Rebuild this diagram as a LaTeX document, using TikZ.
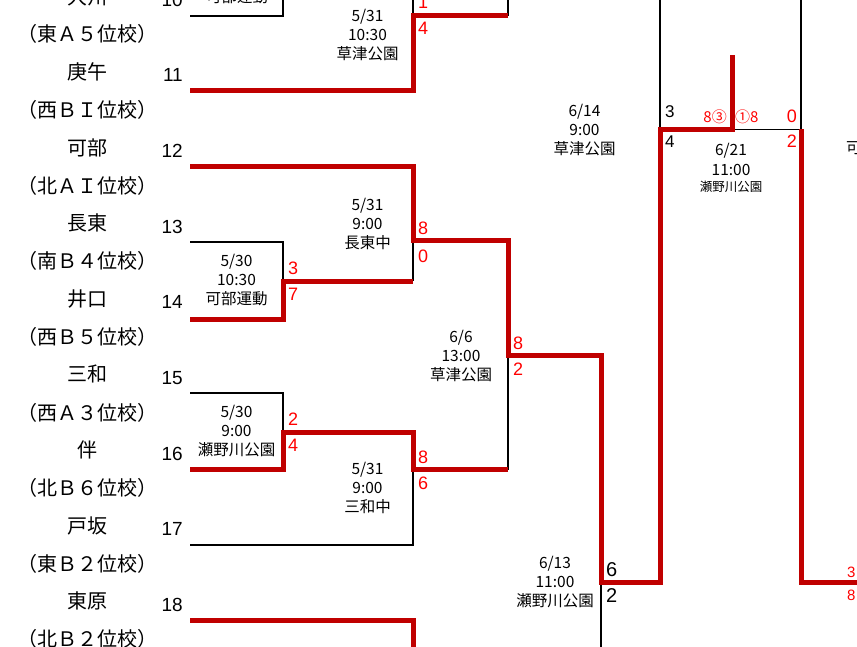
\documentclass[tikz,border=0pt]{standalone}
\usepackage{fontspec}
\setmainfont{Liberation Sans}
\newfontfamily\jp{Noto Sans CJK JP}
\definecolor{wred}{RGB}{192,0,0}
\definecolor{sred}{RGB}{255,0,0}
\begin{document}
\begin{tikzpicture}[x=1pt,y=-1pt,
  win/.style={wred,line width=5pt},
  lose/.style={black,line width=1.6pt},
  team/.style={font=\fontsize{20}{24}\selectfont\jp,inner sep=0},
  seed/.style={font=\fontsize{19}{22}\selectfont,anchor=base east,inner sep=0},
  info/.style={font=\fontsize{15.5}{19}\selectfont\jp,align=center,inner sep=0},
  sc/.style={font=\fontsize{18}{20}\selectfont,text=sred,inner sep=0},
  bsc/.style={font=\fontsize{18}{20}\selectfont,text=black,inner sep=0}]
\clip (0,0) rectangle (857,647);
\fill[white] (0,0) rectangle (857,647);
% team names
\foreach \k/\nm/\sub in {10/大州/（東Ａ５位校）,11/庚午/（西ＢＩ位校）,12/可部/（北ＡＩ位校）,13/長東/（南Ｂ４位校）,14/井口/（西Ｂ５位校）,15/三和/（西Ａ３位校）,16/伴/（北Ｂ６位校）,17/戸坂/（東Ｂ２位校）,18/東原/（北Ｂ２位校）}{
  \pgfmathsetmacro\yy{72+75.6*(\k-11)}
  \pgfmathsetmacro\ys{110+75.6*(\k-11)}
  \pgfmathsetmacro\yb{82+75.6*(\k-11)}
  \node[team] (n\k) at (87,\yy) {\nm};
  \node[team] (s\k) at (87,\ys) {\sub};
  \node[seed] (num\k) at (183,\yb) {\k};
}
% coordinates
\coordinate (L10) at (190,16);
\coordinate (L11) at (190,91);
\coordinate (L12) at (190,167);
\coordinate (L13) at (190,242);
\coordinate (L14) at (190,319);
\coordinate (L15) at (190,393);
\coordinate (L16) at (190,469.5);
\coordinate (L17) at (190,545);
\coordinate (L18) at (190,620);
\coordinate (M1) at (283,-10);
\coordinate (M2) at (413,16);
\coordinate (T2) at (413,-10);
\coordinate (Q1) at (508,16);
\coordinate (T3) at (508,-10);
\coordinate (M3) at (283,281);
\coordinate (M4) at (413,241);
\coordinate (M4b) at (413,281);
\coordinate (Q2) at (508,241);
\coordinate (M5) at (283,432);
\coordinate (M6t) at (413,432);
\coordinate (M6) at (413,469.5);
\coordinate (Q3) at (508,469.5);
\coordinate (Q) at (508,355.5);
\coordinate (R1) at (601,355.5);
\coordinate (R) at (601,582);
\coordinate (B1) at (601,655);
\coordinate (S1) at (660,582);
\coordinate (S) at (660,129.5);
\coordinate (T4) at (660,-10);
\coordinate (F) at (732,129.5);
\coordinate (Fw) at (732,55);
\coordinate (G) at (801,129.5);
\coordinate (T5) at (801,-10);
\coordinate (G2) at (801,582);
\coordinate (E2) at (865,582);
\coordinate (B18) at (413,655);
% losing lines
\draw[lose] (L10) -| (M1);
\draw[lose] (T2) -- (M2);
\draw[lose] (T3) -- (Q1);
\draw[lose] (L13) -| (M3);
\draw[lose] (M4) -- (M4b);
\draw[lose] (L15) -| (M5);
\draw[lose] (M6) |- (L17);
\draw[lose] (Q) -- (Q3);
\draw[lose] (R) -- (B1);
\draw[lose] (S) -- (T4);
\draw[lose] (F) -- (G) -- (T5);
% winning lines
\draw[win] (L11) -| (M2) -- (Q1);
\draw[win] (L12) -| (M4) -- (Q2) -- (Q) -- (R1) -- (R) -- (S1) -- (S) -- (F) -- (Fw);
\draw[win] (L14) -| (M3) -- (M4b);
\draw[win] (L16) -| (M5) -- (M6t) -- (M6) -- (Q3);
\draw[win] (L18) -| (B18);
\draw[win] (G) -- (G2) -- (E2);
% match info
\node[info] (d1) at (237,-3) {可部運動};
\node[info] (d2) at (367.5,35.5) {5/31\\10:30\\草津公園};
\node[info] (d3) at (236.5,280.5) {5/30\\10:30\\可部運動};
\node[info] (d4) at (367.5,224) {5/31\\9:00\\長東中};
\node[info] (d5) at (236.5,431) {5/30\\9:00\\瀬野川公園};
\node[info] (d6) at (367.5,488) {5/31\\9:00\\三和中};
\node[info] (d7) at (461,356.5) {6/6\\13:00\\草津公園};
\node[info] (d8) at (555,582.5) {6/13\\11:00\\瀬野川公園};
\node[info] (d9) at (584.5,130.5) {6/14\\9:00\\草津公園};
\node[info] (d10a) at (731,151) {6/21};
\node[info] (d10b) at (731,169.5) {11:00};
\node[info,font=\fontsize{12.5}{15}\selectfont\jp] (d10c) at (731,187) {瀬野川公園};
\node[info,anchor=west] (d11) at (846,148) {可部運動};
% scores
\node[sc,anchor=base west] (s2a) at (418,9) {1};
\node[sc,anchor=base west] (s2b) at (418,35) {4};
\node[sc,anchor=base west] (s4a) at (418,235) {8};
\node[sc,anchor=base west] (s4b) at (418,262) {0};
\node[sc,anchor=base west] (s3a) at (288,274) {3};
\node[sc,anchor=base west] (s3b) at (288,300) {7};
\node[sc,anchor=base west] (s5a) at (288,425) {2};
\node[sc,anchor=base west] (s5b) at (288,451) {4};
\node[sc,anchor=base west] (s6a) at (418,463) {8};
\node[sc,anchor=base west] (s6b) at (418,489) {6};
\node[sc,anchor=base west] (sqa) at (513,349) {8};
\node[sc,anchor=base west] (sqb) at (513,375) {2};
\node[bsc,font=\fontsize{20}{22}\selectfont,anchor=base west] (sra) at (606,576) {6};
\node[bsc,font=\fontsize{20}{22}\selectfont,anchor=base west] (srb) at (606,602) {2};
\node[bsc,font=\fontsize{17}{20}\selectfont,anchor=base west] (ssa) at (665,118) {3};
\node[bsc,font=\fontsize{17}{20}\selectfont,anchor=base west] (ssb) at (665,148) {4};
\node[sc,anchor=base east] (sga) at (797,123) {0};
\node[sc,anchor=base east] (sgb) at (797,148) {2};
\node[sc,font=\fontsize{15}{18}\selectfont\jp,anchor=base east] (sfa) at (727,123) {8③};
\node[sc,font=\fontsize{15}{18}\selectfont\jp,anchor=base west] (sfb) at (735,123) {①8};
\node[sc,font=\fontsize{15}{18}\selectfont,anchor=base west] (sea) at (847,577) {3};
\node[sc,font=\fontsize{15}{18}\selectfont,anchor=base west] (seb) at (847,600) {8};
\end{tikzpicture}
\end{document}
